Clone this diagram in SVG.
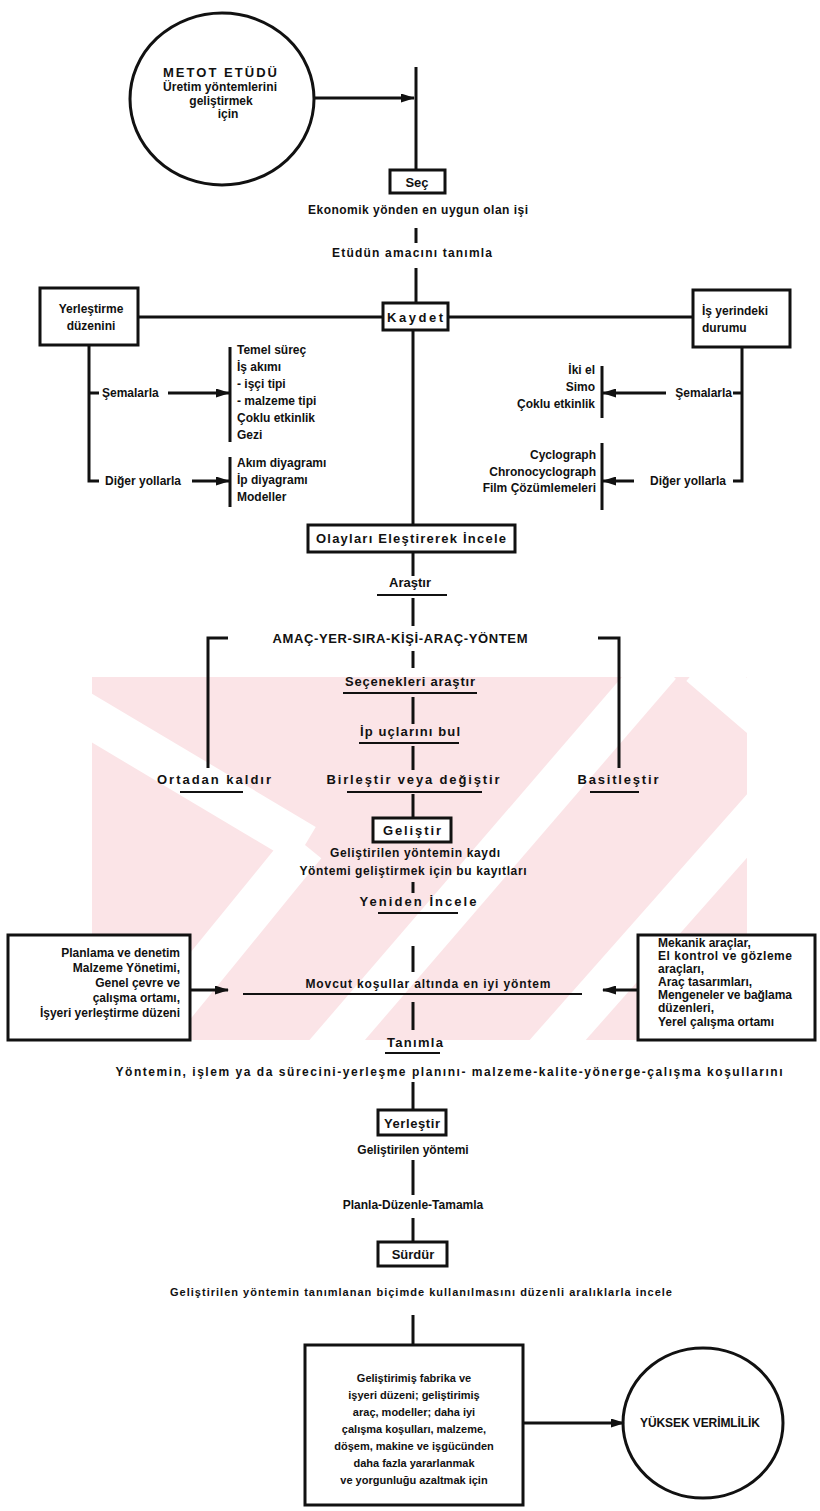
<svg xmlns="http://www.w3.org/2000/svg" width="820" height="1511" viewBox="0 0 820 1511">
<style>
  text { font-family: "Liberation Sans", Arial, Helvetica, sans-serif; font-weight: bold; fill: #111; font-size: 12px; }
  .m { text-anchor: middle; }
  .e { text-anchor: end; }
  .h { font-size: 13px; }
  .sm { font-size: 11px; }
  .ln { stroke: #111; stroke-width: 3; fill: none; }
  .ul { stroke: #111; stroke-width: 2; fill: none; }
  .bx { fill: #fff; stroke: #111; stroke-width: 3; }
  .ar { marker-end: url(#ah); }
  .wmb { fill: #fbe4e7; }
  .wms { stroke: #fff; stroke-width: 42; }
</style>
<defs>
  <marker id="ah" markerUnits="userSpaceOnUse" markerWidth="14" markerHeight="9" refX="13" refY="4.5" orient="auto">
    <path d="M0,0 L14,4.5 L0,9 z" fill="#111"/>
  </marker>
  <clipPath id="wmclip"><rect x="92" y="677" width="655" height="363"/></clipPath>
</defs>
<rect width="820" height="1511" fill="#fff"/>

<!-- faint background emblem -->
<g id="emblem" clip-path="url(#wmclip)">
  <rect class="wmb" x="92" y="677" width="655" height="363"/>
  <line class="wms" x1="70" y1="705" x2="305" y2="845"/>
  <line class="wms" x1="130" y1="1060" x2="305" y2="845"/>
  <line class="wms" x1="320" y1="1060" x2="660" y2="665"/>
  <line class="wms" x1="540" y1="1060" x2="770" y2="800"/>
  <line class="wms" x1="700" y1="665" x2="770" y2="725"/>
</g>

<g id="connectors">
  <line class="ln ar" x1="315" y1="98" x2="414" y2="98"/>
  <line class="ln" x1="416" y1="67" x2="416" y2="170"/>
  <line class="ln" x1="416" y1="228" x2="416" y2="243"/>
  <line class="ln" x1="416" y1="268" x2="416" y2="303"/>
  <line class="ln" x1="138" y1="317" x2="383" y2="317"/>
  <line class="ln" x1="448" y1="317" x2="693" y2="317"/>
  <line class="ln" x1="413" y1="330" x2="413" y2="525"/>
  <!-- left branch -->
  <path class="ln" d="M89,345 V481 H99 M89,393 H99"/>
  <line class="ln ar" x1="168" y1="393" x2="229" y2="393"/>
  <line class="ln ar" x1="192" y1="481" x2="229" y2="481"/>
  <line class="ln" x1="230" y1="347" x2="230" y2="442"/>
  <line class="ln" x1="230" y1="457" x2="230" y2="507"/>
  <!-- right branch -->
  <path class="ln" d="M742,347 V481 H733 M742,393 H733"/>
  <line class="ln ar" x1="666" y1="393" x2="603" y2="393"/>
  <line class="ln ar" x1="634" y1="481" x2="603" y2="481"/>
  <line class="ln" x1="602" y1="366" x2="602" y2="418"/>
  <line class="ln" x1="602" y1="443" x2="602" y2="510"/>
  <!-- main spine -->
  <line class="ln" x1="413" y1="552" x2="413" y2="576"/>
  <line class="ln" x1="413" y1="598" x2="413" y2="626"/>
  <path class="ln" d="M228,638 H208 V768 M598,638 H619 V768"/>
  <line class="ln" x1="413" y1="651" x2="413" y2="668"/>
  <line class="ln" x1="413" y1="697" x2="413" y2="724"/>
  <line class="ln" x1="413" y1="746" x2="413" y2="770"/>
  <line class="ln" x1="413" y1="794" x2="413" y2="818"/>
  <line class="ln" x1="413" y1="882" x2="413" y2="893"/>
  <line class="ln" x1="413" y1="946" x2="413" y2="972"/>
  <line class="ul" x1="243" y1="994" x2="582" y2="994"/>
  <line class="ln" x1="413" y1="1002" x2="413" y2="1030"/>
  <line class="ln ar" x1="190" y1="990" x2="228" y2="990"/>
  <line class="ln ar" x1="638" y1="990" x2="603" y2="990"/>
  <line class="ln" x1="413" y1="1082" x2="413" y2="1110"/>
  <line class="ln" x1="413" y1="1160" x2="413" y2="1195"/>
  <line class="ln" x1="413" y1="1218" x2="413" y2="1242"/>
  <line class="ln" x1="413" y1="1315" x2="413" y2="1345"/>
  <line class="ln ar" x1="523" y1="1423" x2="624" y2="1423"/>
</g>

<g id="metot-etudu">
  <ellipse cx="222" cy="99" rx="92" ry="86" fill="none" stroke="#111" stroke-width="3"/>
  <text class="m h" x="220" y="77" textLength="114">METOT ETÜDÜ</text>
  <text class="m" x="220" y="91" textLength="114">Üretim yöntemlerini</text>
  <text class="m" x="221" y="105">geliştirmek</text>
  <text class="m" x="228" y="118">için</text>
</g>

<g id="sec">
  <rect class="bx" x="390" y="170" width="55" height="23"/>
  <text class="m h" x="417" y="187">Seç</text>
  <text class="m" x="418" y="214" textLength="220">Ekonomik yönden en uygun olan işi</text>
  <text class="m" x="412" y="257" textLength="160">Etüdün amacını tanımla</text>
</g>

<g id="kaydet">
  <rect class="bx" x="383" y="303" width="65" height="27"/>
  <text class="m h" x="415" y="322" textLength="56">Kaydet</text>
</g>

<g id="yerlestirme">
  <rect class="bx" x="40" y="288" width="98" height="57"/>
  <text class="m" x="91" y="313">Yerleştirme</text>
  <text class="m" x="91" y="330">düzenini</text>
  <text x="102" y="397">Şemalarla</text>
  <text x="105" y="485">Diğer yollarla</text>
  <text x="237" y="354">Temel süreç</text>
  <text x="237" y="371">İş akımı</text>
  <text x="237" y="388">- işçi tipi</text>
  <text x="237" y="405">- malzeme tipi</text>
  <text x="237" y="422">Çoklu etkinlik</text>
  <text x="237" y="439">Gezi</text>
  <text x="237" y="467">Akım diyagramı</text>
  <text x="237" y="484">İp diyagramı</text>
  <text x="237" y="501">Modeller</text>
</g>

<g id="isyeri">
  <rect class="bx" x="693" y="290" width="97" height="57"/>
  <text x="702" y="315">İş yerindeki</text>
  <text x="702" y="332">durumu</text>
  <text class="e" x="732" y="397">Şemalarla</text>
  <text class="e" x="726" y="485">Diğer yollarla</text>
  <text class="e" x="595" y="374">İki el</text>
  <text class="e" x="595" y="391">Simo</text>
  <text class="e" x="595" y="408">Çoklu etkinlik</text>
  <text class="e" x="596" y="459">Cyclograph</text>
  <text class="e" x="596" y="476">Chronocyclograph</text>
  <text class="e" x="596" y="492">Film Çözümlemeleri</text>
</g>

<g id="olaylari">
  <rect class="bx" x="308" y="525" width="207" height="27"/>
  <text class="m h" x="411" y="543" textLength="190">Olayları Eleştirerek İncele</text>
</g>

<g id="arastir">
  <text class="m h" x="410" y="587">Araştır</text>
  <line class="ul" x1="377" y1="595" x2="447" y2="595"/>
  <text class="m h" x="400" y="643" textLength="255">AMAÇ-YER-SIRA-KİŞİ-ARAÇ-YÖNTEM</text>
</g>

<g id="secenekler">
  <text class="m h" x="410" y="686" textLength="130">Seçenekleri  araştır</text>
  <line class="ul" x1="343" y1="693" x2="477" y2="693"/>
  <text class="m h" x="410" y="736" textLength="100">İp uçlarını bul</text>
  <line class="ul" x1="359" y1="743" x2="459" y2="743"/>
</g>

<g id="ortadan-kaldir">
  <text class="m h" x="214" y="784" textLength="114">Ortadan  kaldır</text>
  <line class="ul" x1="180" y1="792" x2="243" y2="792"/>
</g>
<g id="birlestir">
  <text class="m h" x="413" y="784" textLength="173">Birleştir  veya  değiştir</text>
  <line class="ul" x1="347" y1="792" x2="482" y2="792"/>
</g>
<g id="basitlestir">
  <text class="m h" x="618" y="784" textLength="81">Basitleştir</text>
  <line class="ul" x1="590" y1="792" x2="639" y2="792"/>
</g>

<g id="gelistir">
  <rect class="bx" x="373" y="818" width="78" height="24"/>
  <text class="m h" x="412" y="835" textLength="58">Geliştir</text>
  <text class="m" x="415" y="857" textLength="170">Geliştirilen yöntemin kaydı</text>
  <text class="m" x="413" y="875" textLength="227">Yöntemi geliştirmek için bu kayıtları</text>
</g>

<g id="yeniden-incele">
  <text class="m h" x="418" y="906" textLength="117">Yeniden  İncele</text>
  <line class="ul" x1="378" y1="913" x2="458" y2="913"/>
  <text class="m" x="428" y="988" textLength="245">Movcut koşullar altında en iyi yöntem</text>
</g>

<g id="planlama">
  <rect class="bx" x="8" y="935" width="182" height="105"/>
  <text class="e" x="180" y="957">Planlama ve denetim</text>
  <text class="e" x="180" y="972">Malzeme Yönetimi,</text>
  <text class="e" x="180" y="987">Genel çevre ve</text>
  <text class="e" x="180" y="1002">çalışma ortamı,</text>
  <text class="e" x="180" y="1017">İşyeri yerleştirme düzeni</text>
</g>

<g id="mekanik">
  <rect class="bx" x="638" y="935" width="177" height="105"/>
  <text x="658" y="947">Mekanik araçlar,</text>
  <text x="658" y="960" textLength="134">El kontrol ve gözleme</text>
  <text x="658" y="973">araçları,</text>
  <text x="658" y="986">Araç tasarımları,</text>
  <text x="658" y="999" textLength="134">Mengeneler ve bağlama</text>
  <text x="658" y="1012">düzenleri,</text>
  <text x="658" y="1026">Yerel çalışma ortamı</text>
</g>

<g id="tanimla">
  <text class="m h" x="415" y="1047" textLength="56">Tanımla</text>
  <line class="ul" x1="385" y1="1053" x2="440" y2="1053"/>
  <text class="m" x="449" y="1076" textLength="667">Yöntemin, işlem ya da sürecini-yerleşme planını- malzeme-kalite-yönerge-çalışma koşullarını</text>
</g>

<g id="yerlestir">
  <rect class="bx" x="378" y="1110" width="68" height="25"/>
  <text class="m h" x="412" y="1128" textLength="56">Yerleştir</text>
  <text class="m" x="413" y="1154">Geliştirilen yöntemi</text>
  <text class="m" x="413" y="1209">Planla-Düzenle-Tamamla</text>
</g>

<g id="surdur">
  <rect class="bx" x="378" y="1242" width="69" height="24"/>
  <text class="m h" x="413" y="1259">Sürdür</text>
  <text class="m sm" x="421" y="1296" textLength="502">Geliştirilen yöntemin tanımlanan biçimde kullanılmasını düzenli aralıklarla incele</text>
</g>

<g id="sonuc">
  <rect class="bx" x="305" y="1345" width="218" height="160"/>
  <text class="m sm" x="414" y="1382">Geliştirimiş fabrika ve</text>
  <text class="m sm" x="414" y="1399">işyeri düzeni; geliştirimiş</text>
  <text class="m sm" x="414" y="1416">araç, modeller; daha iyi</text>
  <text class="m sm" x="414" y="1433">çalışma koşulları, malzeme,</text>
  <text class="m sm" x="414" y="1450">döşem, makine ve işgücünden</text>
  <text class="m sm" x="414" y="1467">daha fazla yararlanmak</text>
  <text class="m sm" x="414" y="1484">ve yorgunluğu azaltmak için</text>
</g>

<g id="yuksek-verimlilik">
  <ellipse cx="703" cy="1423" rx="80" ry="75" fill="none" stroke="#111" stroke-width="3"/>
  <text class="m" x="700" y="1427" textLength="120">YÜKSEK VERİMLİLİK</text>
</g>
</svg>
